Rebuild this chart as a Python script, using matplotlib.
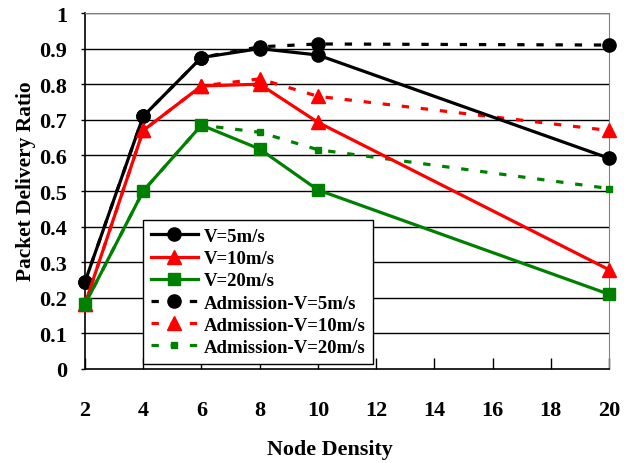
import matplotlib
matplotlib.use("Agg")
import matplotlib.pyplot as plt

density = [2, 4, 6, 8, 10, 20]

v5 = [0.245, 0.71, 0.875, 0.90, 0.882, 0.592]
v10 = [0.183, 0.67, 0.795, 0.80, 0.693, 0.279]
v20 = [0.182, 0.50, 0.685, 0.618, 0.503, 0.21]

adm_v5 = [0.245, 0.71, 0.875, 0.905, 0.913, 0.91]
adm_v10 = [0.183, 0.67, 0.795, 0.815, 0.766, 0.67]
adm_v20 = [0.182, 0.50, 0.685, 0.665, 0.616, 0.507]

labels = ["V=5m/s", "V=10m/s", "V=20m/s",
          "Admission-V=5m/s", "Admission-V=10m/s", "Admission-V=20m/s"]

plt.rcParams['font.family'] = ['Liberation Serif', 'DejaVu Serif']
plt.rcParams['font.weight'] = 'bold'

fig = plt.figure(figsize=(6.24, 4.64), dpi=100)
ax = fig.add_axes([85/624, 1-370/464, 524/624, 356/464])

dash = (0, (2.3, 3.7))
lw = 2.3

ax.plot(density, v5, color='black', lw=lw, marker='o', ms=9.5, label=labels[0], clip_on=False, zorder=5)
ax.plot(density, v10, color='red', lw=lw, marker='^', ms=10, label=labels[1], clip_on=False, zorder=5)
ax.plot(density, v20, color='green', lw=lw, marker='s', ms=8.5, label=labels[2], clip_on=False, zorder=5)
ax.plot(density, adm_v5, color='black', lw=lw, ls=dash, marker='o', ms=9.5, label=labels[3], clip_on=False, zorder=4)
ax.plot(density, adm_v10, color='red', lw=lw, ls=dash, marker='^', ms=10, label=labels[4], clip_on=False, zorder=4)
ax.plot(density, adm_v20, color='green', lw=lw, ls=dash, marker='s', ms=5, label=labels[5], clip_on=False, zorder=4)

ax.set_xlim(2, 20)
ax.set_ylim(0, 1)
ax.set_xticks(range(2, 21, 2))
ax.set_yticks([i / 10 for i in range(11)])
ax.set_yticklabels(['0', '0.1', '0.2', '0.3', '0.4', '0.5', '0.6', '0.7', '0.8', '0.9', '1'])

for y in [i / 10 for i in range(1, 11)]:
    ax.axhline(y, color='black', lw=1, zorder=1)

ax.tick_params(axis='x', direction='in', length=8, width=1, pad=22, labelsize=16)
ax.tick_params(axis='y', direction='out', length=3, width=1, pad=10, labelsize=16)

ax.spines['left'].set_color('black')
ax.spines['bottom'].set_color('black')
ax.spines['left'].set_linewidth(1.2)
ax.spines['bottom'].set_linewidth(1.2)
ax.spines['right'].set_color('gray')
ax.spines['top'].set_color('gray')

ax.set_xlabel("Node Density", fontsize=15.8, fontweight='bold')
ax.set_ylabel("Packet Delivery Ratio", fontsize=15.4, fontweight='bold')
ax.xaxis.set_label_coords((329.5 - 85) / 524, (370 - 450) / 356)
ax.yaxis.set_label_coords((26 - 85) / 524, (370 - 181) / 356)
ax.xaxis.label.set_va('center')
ax.yaxis.label.set_va('center')

leg = ax.legend(loc='upper left', bbox_to_anchor=(143/624, 1-221/464),
                bbox_transform=fig.transFigure, borderaxespad=0,
                fontsize=13.5, handlelength=2.5, labelspacing=0.27,
                handletextpad=0.3, borderpad=0.42, fancybox=False,
                framealpha=1, edgecolor='black')
leg.get_frame().set_linewidth(1)
leg.set_zorder(10)

fig.savefig("out.png", dpi=100)
